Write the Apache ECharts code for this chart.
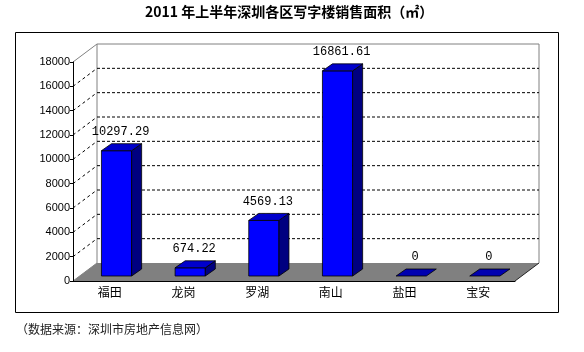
<!DOCTYPE html>
<html>
<head>
<meta charset="utf-8">
<script src="https://cdn.jsdelivr.net/npm/echarts@6/dist/echarts.min.js"></script>
<style>
  html, body { margin: 0; padding: 0; background: #fff; }
  #chart { width: 584px; height: 352px; }
</style>
</head>
<body>
<div id="chart"></div>
<script>
// 数据
const categories = ['福田', '龙岗', '罗湖', '南山', '盐田', '宝安']
const areaValues = [10297.29, 674.22, 4569.13, 16861.61, 0, 0]
const yTicks = [0, 2000, 4000, 6000, 8000, 10000, 12000, 14000, 16000, 18000]

const titleText = '2011 年上半年深圳各区写字楼销售面积（㎡）'
const sourceText = '（数据来源：深圳市房地产信息网）'

// 3D 透视偏移（地板深度）
const DX = 24, DY = -18
// 柱子在地板中的位置和厚度
const BAR_SX = 6.7, BAR_SY = -5
const BAR_DX = 10, BAR_DY = -7

const CJK = '"Noto Sans CJK SC", sans-serif'

function line(p1, p2, stroke, dash) {
  return {
    type: 'line',
    shape: { x1: p1[0], y1: p1[1], x2: p2[0], y2: p2[1] },
    style: { stroke, lineWidth: 1, lineDash: dash || null }
  }
}

// 背景墙、地板和虚线网格
function renderWalls(params, api) {
  const cs = params.coordSys
  const xl = cs.x, xr = cs.x + cs.width
  const floorY = api.coord([0, 0])[1]
  const topY = api.coord([0, yTicks[yTicks.length - 1]])[1]
  const children = []
  children.push({
    type: 'polygon',
    shape: { points: [[xl, floorY], [xr, floorY], [xr + DX, floorY + DY], [xl + DX, floorY + DY]] },
    style: { fill: '#808080', stroke: null }
  })
  children.push(line([xr, floorY], [xr + DX, floorY + DY], '#222'))
  children.push(line([xl, floorY], [xl + DX, floorY + DY], '#808080'))
  children.push(line([xl + DX, topY + DY], [xl + DX, floorY + DY], '#808080'))
  children.push(line([xr + DX, topY + DY], [xr + DX, floorY + DY], '#808080'))
  children.push(line([xl + DX, topY + DY], [xr + DX, topY + DY], '#808080'))
  children.push(line([xl, topY], [xl + DX, topY + DY], '#808080'))
  yTicks.slice(1, -1).forEach(v => {
    const y = api.coord([0, v])[1]
    children.push(line([xl, y], [xl + DX, y + DY], '#000', [3, 3]))
    children.push(line([xl + DX, y + DY], [xr + DX, y + DY], '#000', [3, 2]))
  })
  return { type: 'group', children }
}

// 3D 柱子
function renderBar(params, api) {
  const i = api.value(0)
  const v = api.value(1)
  const base = api.coord([i, 0])
  const top = api.coord([i, v])
  const bw = api.size([1, 0])[0] * 0.41
  const cx = base[0] + BAR_SX
  const x0 = cx - bw / 2, x1 = cx + bw / 2
  const yb = base[1] + BAR_SY
  const yt = top[1] + BAR_SY
  const edge = { stroke: '#000', lineWidth: 0.8 }
  const children = []
  if (v > 0) {
    children.push({
      type: 'polygon',
      shape: { points: [[x0, yt], [x1, yt], [x1, yb], [x0, yb]] },
      style: Object.assign({ fill: '#0000ff' }, edge)
    })
    children.push({
      type: 'polygon',
      shape: { points: [[x1, yt], [x1 + BAR_DX, yt + BAR_DY], [x1 + BAR_DX, yb + BAR_DY], [x1, yb]] },
      style: Object.assign({ fill: '#000080' }, edge)
    })
  }
  children.push({
    type: 'polygon',
    shape: { points: [[x0, yt], [x0 + BAR_DX, yt + BAR_DY], [x1 + BAR_DX, yt + BAR_DY], [x1, yt]] },
    style: Object.assign({ fill: v > 0 ? '#0000cc' : '#0000b0' }, edge)
  })
  children.push({
    type: 'text',
    style: {
      text: String(v),
      x: cx + 4,
      y: yt - 19,
      align: 'center',
      verticalAlign: 'middle',
      fill: '#000',
      font: '12px "Liberation Mono", monospace'
    }
  })
  return { type: 'group', children }
}

const chart = echarts.init(document.getElementById('chart'))

chart.setOption({
  animation: false,
  title: {
    text: titleText,
    left: 145,
    top: 5,
    padding: 0,
    textStyle: { fontSize: 14, fontWeight: 'bold', fontFamily: CJK, color: '#000' }
  },
  grid: { left: 73, right: 69, top: 62, bottom: 71 },
  xAxis: {
    type: 'category',
    data: categories,
    z: 5,
    axisLine: { lineStyle: { color: '#000', width: 1 } },
    axisTick: { inside: true, length: 4, lineStyle: { color: '#000' } },
    axisLabel: { color: '#000', fontSize: 12, fontFamily: CJK, margin: 5 },
    splitLine: { show: false }
  },
  yAxis: {
    type: 'value',
    min: 0,
    max: 18000,
    interval: 2000,
    z: 5,
    axisLine: { show: true, lineStyle: { color: '#000', width: 1 } },
    axisTick: { show: true, length: 3, lineStyle: { color: '#000' } },
    axisLabel: {
      color: '#000', fontSize: 11, margin: 3,
      fontFamily: '"Liberation Sans", Arial, sans-serif',
      formatter: v => String(v)
    },
    splitLine: { show: false }
  },
  graphic: [
    {
      type: 'rect',
      shape: { x: 15.5, y: 32.5, width: 543, height: 280 },
      style: { fill: null, stroke: '#000', lineWidth: 1 },
      z: 0
    },
    {
      type: 'text',
      left: 16,
      top: 323,
      style: { text: sourceText, font: '12px "Noto Sans CJK SC", sans-serif', fill: '#222' }
    }
  ],
  series: [
    {
      type: 'custom',
      name: 'walls',
      silent: true,
      z: 1,
      data: [[0, 0]],
      renderItem: renderWalls
    },
    {
      type: 'custom',
      name: '销售面积',
      z: 3,
      data: categories.map((c, i) => [i, areaValues[i]]),
      encode: { x: 0, y: 1 },
      renderItem: renderBar
    }
  ]
})
</script>
</body>
</html>
